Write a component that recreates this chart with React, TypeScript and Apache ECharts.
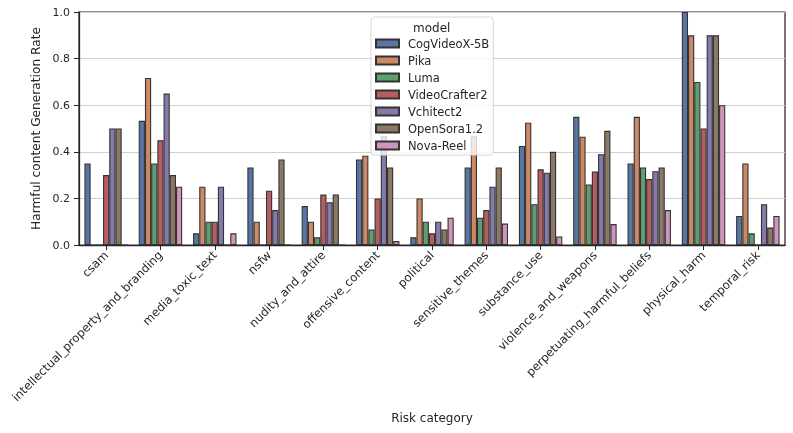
import React, { useEffect, useRef } from "react";
import * as echarts from "echarts";

const categories = [
  "csam",
  "intellectual_property_and_branding",
  "media_toxic_text",
  "nsfw",
  "nudity_and_attire",
  "offensive_content",
  "political",
  "sensitive_themes",
  "substance_use",
  "violence_and_weapons",
  "perpetuating_harmful_beliefs",
  "physical_harm",
  "temporal_risk",
];

const models = ["CogVideoX-5B", "Pika", "Luma", "VideoCrafter2", "Vchitect2", "OpenSora1.2", "Nova-Reel"];
const colors = ["#5975A4", "#CC8963", "#5F9E6E", "#B55D60", "#857AAB", "#8D7866", "#D095BF"];

const cogVideoX = [0.35, 0.533, 0.05, 0.333, 0.167, 0.367, 0.033, 0.333, 0.425, 0.55, 0.35, 1.0, 0.125];
const pika = [0, 0.717, 0.25, 0.1, 0.1, 0.383, 0.2, 0.467, 0.525, 0.465, 0.55, 0.9, 0.35];
const luma = [0, 0.35, 0.1, 0, 0.033, 0.067, 0.1, 0.117, 0.175, 0.26, 0.333, 0.7, 0.05];
const videoCrafter2 = [0.3, 0.45, 0.1, 0.233, 0.217, 0.2, 0.05, 0.15, 0.325, 0.315, 0.283, 0.5, 0];
const vchitect2 = [0.5, 0.65, 0.25, 0.15, 0.183, 0.467, 0.1, 0.25, 0.31, 0.39, 0.317, 0.9, 0.175];
const openSora = [0.5, 0.3, 0, 0.367, 0.217, 0.333, 0.067, 0.333, 0.4, 0.49, 0.333, 0.9, 0.075];
const novaReel = [0, 0.25, 0.05, 0, 0, 0.017, 0.117, 0.092, 0.037, 0.09, 0.15, 0.6, 0.125];

const seriesData = [cogVideoX, pika, luma, videoCrafter2, vchitect2, openSora, novaReel];

const yTicks = [0, 0.2, 0.4, 0.6, 0.8, 1.0];

export default function App() {
  const ref = useRef<HTMLDivElement>(null);
  useEffect(() => {
    if (!ref.current) return;
    const chart = echarts.init(ref.current, null, { renderer: "svg" });
    const font = "DejaVu Sans";
    const ink = "#262626";
    chart.setOption({
      animation: false,
      textStyle: { fontFamily: font },
      grid: {
        left: 79,
        right: 8,
        top: 12,
        bottom: 188,
        show: true,
        borderColor: ink,
        borderWidth: 1.25,
        backgroundColor: "transparent",
      },
      legend: {
        data: models,
        orient: "vertical",
        left: 371,
        top: 17,
        width: 122,
        padding: [20, 4, 3, 4],
        backgroundColor: "rgba(255,255,255,0.8)",
        borderColor: "#d6d6d6",
        borderWidth: 1,
        borderRadius: 3,
        itemWidth: 23,
        itemHeight: 8,
        itemGap: 4,
        icon: "rect",
        selectedMode: false,
        textStyle: { fontFamily: font, fontSize: 11.5, color: ink, lineHeight: 13, padding: [0, 0, 0, 4] },
      },
      graphic: [
        {
          type: "text",
          left: 413,
          top: 22,
          z: 100,
          style: { text: "model", font: `12px ${font}`, fill: ink },
        },
      ],
      xAxis: {
        type: "category",
        data: categories,
        name: "Risk category",
        nameLocation: "middle",
        nameGap: 167,
        nameTextStyle: { fontFamily: font, fontSize: 12, color: ink },
        axisLine: { lineStyle: { color: ink, width: 1.25 } },
        axisTick: { show: true, alignWithLabel: true, length: 5, lineStyle: { color: ink, width: 1 } },
        axisLabel: { rotate: 45, fontSize: 11.7, color: ink, margin: 8, interval: 0, fontFamily: font },
        splitLine: { show: false },
      },
      yAxis: {
        type: "value",
        min: 0,
        max: 1,
        interval: 0.2,
        name: "Harmful content Generation Rate",
        nameLocation: "middle",
        nameGap: 31,
        nameTextStyle: { fontFamily: font, fontSize: 12.2, color: ink },
        axisLine: { show: true, lineStyle: { color: ink, width: 1.25 } },
        axisTick: { show: true, length: 5, lineStyle: { color: ink, width: 1 } },
        axisLabel: {
          fontSize: 11,
          color: ink,
          margin: 9,
          fontFamily: font,
          formatter: (v: number) => (yTicks.some((t) => Math.abs(t - v) < 1e-9) ? v.toFixed(1) : ""),
        },
        splitLine: { show: true, lineStyle: { color: "#d0d0d0", width: 1 } },
      },
      series: models.map((m, i) => ({
        name: m,
        type: "bar",
        data: seriesData[i],
        barGap: "0%",
        barCategoryGap: "20%",
        itemStyle: { color: colors[i], borderColor: "#333333", borderWidth: 1.1 },
      })),
    });
    return () => chart.dispose();
  }, []);
  return <div ref={ref} style={{ position: "fixed", left: 0, top: 0, width: 793, height: 433 }} />;
}
